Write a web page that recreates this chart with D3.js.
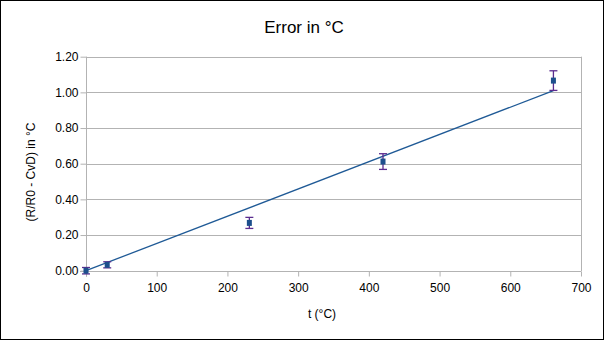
<!DOCTYPE html>
<html>
<head>
<meta charset="utf-8">
<script src="https://cdn.jsdelivr.net/npm/d3@7"></script>
<style>
  html, body { margin: 0; padding: 0; background: #fff; }
  svg { display: block; font-family: "Liberation Sans", Arial, sans-serif; }
</style>
</head>
<body>
<svg id="chart" width="605" height="340"></svg>
<script>
// Measured temperatures and resistance deviation (in °C) with uncertainty
const temps = [0, 30, 231, 420, 661];
const errors = [0.000, 0.033, 0.268, 0.612, 1.066];
const uncertainty = [0.018, 0.017, 0.031, 0.044, 0.055];

// Linear trend line end points
const trendT = [0, 661];
const trendE = [0, 1.010];

const xTicks = [0, 100, 200, 300, 400, 500, 600, 700];
const yTicks = [0.0, 0.2, 0.4, 0.6, 0.8, 1.0, 1.2];

const svg = d3.select("#chart");
const W = 605, H = 340;
const m = { left: 86, right: 581, top: 56.7, bottom: 270.7 };

const x = d3.scaleLinear().domain([0, 700]).range([m.left, m.right]);
const y = d3.scaleLinear().domain([0, 1.2]).range([m.bottom, m.top]);

const grid = "#b3b3b3";

// outer frame
svg.append("rect").attr("x", 0.5).attr("y", 0.5).attr("width", W - 2).attr("height", H - 1)
  .attr("fill", "#fff").attr("stroke", "#000").attr("stroke-width", 1);
svg.append("line").attr("x1", W - 1.5).attr("x2", W - 1.5).attr("y1", 0).attr("y2", H)
  .attr("stroke", "#000").attr("stroke-width", 1);

// horizontal gridlines
svg.append("g").selectAll("line").data(yTicks).join("line")
  .attr("x1", m.left).attr("x2", m.right)
  .attr("y1", d => Math.round(y(d)) + 0.5).attr("y2", d => Math.round(y(d)) + 0.5)
  .attr("stroke", grid).attr("stroke-width", 1);

// right edge of plot area
svg.append("line").attr("x1", Math.round(m.right) + 0.5).attr("x2", Math.round(m.right) + 0.5)
  .attr("y1", m.top).attr("y2", m.bottom + 0.5).attr("stroke", grid);

// y axis
const yAxis = svg.append("g").attr("transform", `translate(${Math.round(m.left) + 0.5},0)`)
  .call(d3.axisLeft(y).tickValues(yTicks).tickFormat(d3.format(".2f")).tickSize(6).tickPadding(2));
yAxis.select(".domain").attr("stroke", grid).attr("d", `M0,${m.top}V${m.bottom + 6}`);
yAxis.selectAll(".tick line").attr("stroke", grid);
yAxis.selectAll(".tick text").attr("font-size", 12).attr("fill", "#000")
  .attr("font-family", "Liberation Sans, Arial, sans-serif");

// x axis
const xAxis = svg.append("g").attr("transform", `translate(0,${Math.round(m.bottom) + 0.5})`)
  .call(d3.axisBottom(x).tickValues(xTicks).tickSize(5).tickPadding(7));
xAxis.select(".domain").attr("stroke", grid).attr("d", `M${m.left - 6},0H${m.right}`);
xAxis.selectAll(".tick line").attr("stroke", grid);
xAxis.selectAll(".tick text").attr("font-size", 12).attr("fill", "#000")
  .attr("font-family", "Liberation Sans, Arial, sans-serif");

// trend line
const trend = trendT.map((t, i) => [t, trendE[i]]);
svg.append("path").datum(trend)
  .attr("d", d3.line().x(d => x(d[0])).y(d => y(d[1])))
  .attr("fill", "none").attr("stroke", "#1f5a96").attr("stroke-width", 1.3);

// error bars
const pts = temps.map((t, i) => ({ t, e: errors[i], u: uncertainty[i] }));
const eb = svg.append("g").attr("stroke", "#5b2c8f").attr("stroke-width", 1.3);
eb.selectAll(".v").data(pts).join("line")
  .attr("x1", d => x(d.t)).attr("x2", d => x(d.t))
  .attr("y1", d => y(d.e - d.u)).attr("y2", d => y(d.e + d.u));
eb.selectAll(".top").data(pts).join("line")
  .attr("x1", d => x(d.t) - 4).attr("x2", d => x(d.t) + 4)
  .attr("y1", d => y(d.e + d.u)).attr("y2", d => y(d.e + d.u));
eb.selectAll(".bot").data(pts).join("line")
  .attr("x1", d => x(d.t) - 4).attr("x2", d => x(d.t) + 4)
  .attr("y1", d => y(d.e - d.u)).attr("y2", d => y(d.e - d.u));

// markers
svg.append("g").selectAll("rect").data(pts).join("rect")
  .attr("x", d => x(d.t) - 2.5).attr("y", d => y(d.e) - 3)
  .attr("width", 5).attr("height", 6)
  .attr("fill", "#1d4f8c");

// titles
svg.append("text").attr("x", 304).attr("y", 33).attr("text-anchor", "middle")
  .attr("font-size", 17).attr("fill", "#000").text("Error in °C");
svg.append("text").attr("x", 322).attr("y", 318).attr("text-anchor", "middle")
  .attr("font-size", 12).attr("fill", "#000").text("t (°C)");
svg.append("text").attr("transform", "translate(35,172) rotate(-90)").attr("text-anchor", "middle")
  .attr("font-size", 12).attr("fill", "#000").text("(R/R0 - CvD) in °C");
</script>
</body>
</html>
